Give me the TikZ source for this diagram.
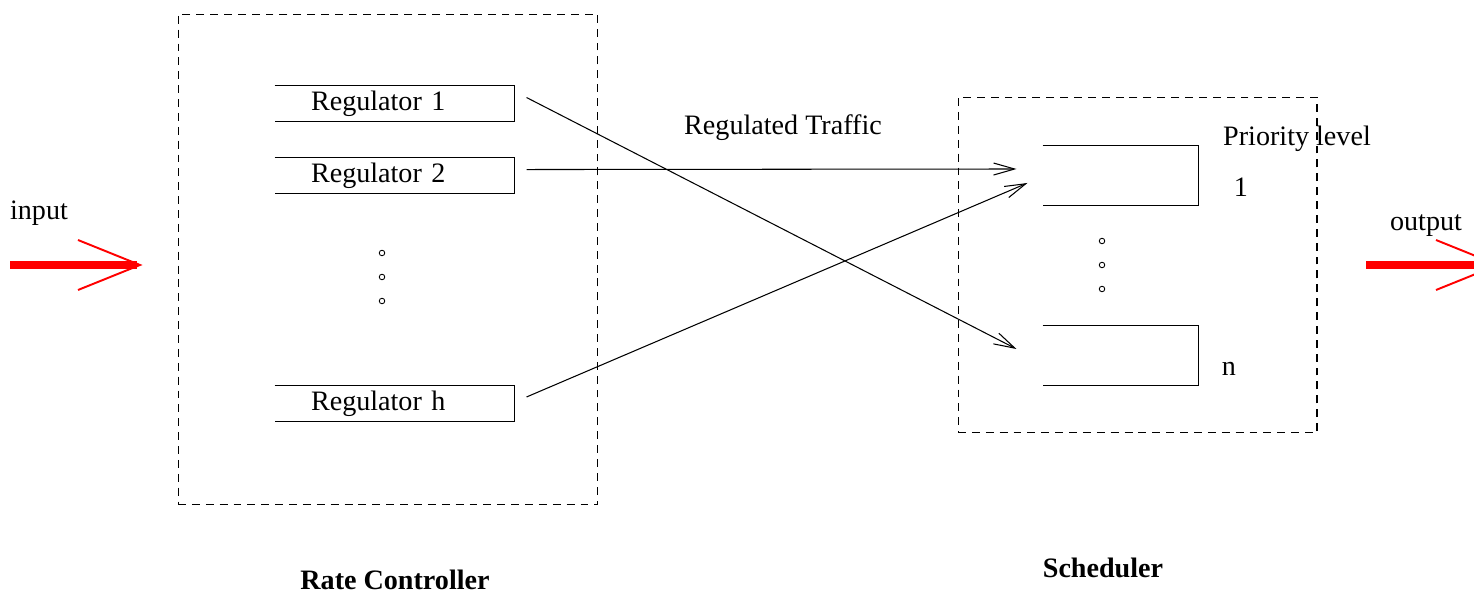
\documentclass[tikz,border=0pt]{standalone}
\usepackage{fontspec}
\setmainfont{Liberation Serif}
\usetikzlibrary{positioning,calc,arrows.meta}
\tikzset{regbox/.style={text width=3.34cm,inner xsep=0.72cm,inner ysep=0pt,minimum height=0.7cm,align=left},
         queue/.style={minimum width=3.1cm,minimum height=1.18cm,inner sep=0pt},
         group/.style={draw,dash pattern=on 4.5pt off 3.4pt,line width=0.6pt,inner sep=0pt},
         line/.style={line width=0.6pt,-{Straight Barb[length=0.42cm,width=0.24cm]}},
         flow/.style={red,line width=4.5pt},
         barb/.style={red,line width=1.1pt},
         dot/.style={circle,draw,inner sep=0pt,minimum size=0.11cm,line width=0.5pt}
     }

\begin{document}
\begin{tikzpicture}[x=0.02cm,y=-0.02cm,line width=0.6pt,
  every node/.append style={font=\fontsize{16}{19}\selectfont}]
\clip (0,0) rectangle (1474,594);
% rate controller
\node[group,minimum width=8.4cm,minimum height=9.82cm] (rc) at (388,259.5) {};
\node[regbox] (r1) at (394.5,103.5) {Regulator 1};
\node[regbox, below=0.72cm of r1] (r2) {Regulator 2};
\node[regbox] (rh) at (394.5,403.5) {Regulator h};
\foreach \n/\y in {1/253,2/277,3/301}
  \node[dot] (rd\n) at (382,\y) {};
\foreach \r in {r1,r2,rh}
  \draw (\r.north west) -- (\r.north east) -- (\r.south east) -- (\r.south west);
\node[font=\bfseries\fontsize{16}{19}\selectfont] (rclabel) at (395,580) {Rate Controller};
% scheduler
\node[group,minimum width=7.18cm,minimum height=6.72cm] (sc) at (1137.5,265) {};
\node[queue] (q1) at (1120.5,175.5) {};
\node[queue] (qn) at (1120.5,355.5) {};
\foreach \q in {q1,qn}
  \draw (\q.north west) -- (\q.north east) -- (\q.south east) -- (\q.south west);
\foreach \n/\y in {1/241,2/265,3/289}
  \node[dot] (sd\n) at (1102,\y) {};
\node (prio) at (1297,139) {Priority level};
\node (p1) at (1241,187) {1};
\node (pn) at (1229,369) {n};
\node[font=\bfseries\fontsize{16}{19}\selectfont] (sclabel) at (1103,568) {Scheduler};
% traffic
\node (traffic) at (783,128) {Regulated Traffic};
\draw[line] ($(r1.east)+(12,-6)$) -- ($(qn.west)+(-26,-6.5)$);
\draw[line] ($(r2.east)+(12,-6)$) -- ($(q1.west)+(-26,-6.5)$);
\draw[line] ($(rh.east)+(12,-6.5)$) -- ($(q1.west)+(-15,7.5)$);
% input and output
\coordinate (in0) at (10,265);
\coordinate (in1) at (140,265);
\node (input) at (39,213) {input};
\draw[flow] (in0) -- ($(in1)+(-3,0)$);
\draw[barb] ($(in1)+(-62,-25)$) -- (in1) -- ($(in1)+(-62,25)$);
\coordinate (out0) at (1366,265);
\coordinate (out1) at (1498,265);
\node (output) at (1426,226) {output};
\draw[flow] (out0) -- ($(out1)+(-3,0)$);
\draw[barb] ($(out1)+(-62,-25)$) -- (out1) -- ($(out1)+(-62,25)$);
\end{tikzpicture}
\end{document}
